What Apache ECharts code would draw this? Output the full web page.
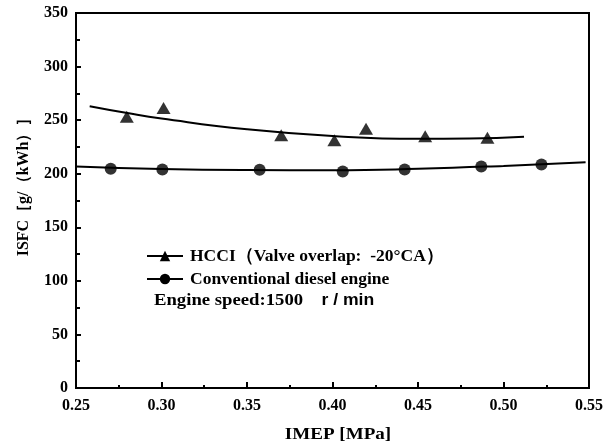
<!DOCTYPE html>
<html>
<head>
<meta charset="utf-8">
<script src="https://cdn.jsdelivr.net/npm/echarts@6/dist/echarts.min.js"></script>
<style>html,body{margin:0;padding:0;background:#fff;}#c{width:611px;height:446px;}</style>
</head>
<body>
<div id="c"></div>
<script>
// Measured points
const hcciX = [0.2797, 0.3012, 0.370, 0.4011, 0.4196, 0.4542, 0.4906];
const hcciY = [253.1, 261.3, 236.0, 231.3, 242.0, 235.0, 233.6];
const dieselX = [0.2703, 0.3005, 0.3574, 0.406, 0.4422, 0.487, 0.5222];
const dieselY = [204.6, 203.9, 203.6, 202.1, 203.9, 206.7, 208.6];
// Fitted curves
const hcciFitX = [0.258, 0.28, 0.30, 0.35, 0.40, 0.45, 0.48, 0.512];
const hcciFitY = [263.0, 256.6, 251.5, 241.5, 235.2, 232.6, 232.8, 234.6];
const dieselFitX = [0.25, 0.30, 0.35, 0.40, 0.45, 0.50, 0.548];
const dieselFitY = [206.8, 204.5, 203.5, 203.3, 204.6, 207.3, 210.8];
// Axis
const xMin = 0.25, xMax = 0.55, xStep = 0.05;
const yMin = 0, yMax = 350, yStep = 50;

const hcciName = 'HCCI（Valve overlap:  -20°CA）';
const dieselName = 'Conventional diesel engine';
const zip = (a, b) => a.map((v, i) => [v, b[i]]);
const serif = '"Liberation Serif","Times New Roman",serif';

const chart = echarts.init(document.getElementById('c'), null, {renderer: 'canvas'});
chart.setOption({
  backgroundColor: '#fff',
  animation: false,
  grid: {left: 76, right: 22, top: 13, bottom: 58, show: true, borderColor: '#000', borderWidth: 2, containLabel: false},
  xAxis: {
    type: 'value', min: xMin, max: xMax, interval: xStep,
    axisLine: {lineStyle: {color: '#000', width: 2}},
    axisTick: {inside: true, length: 6, lineStyle: {color: '#000', width: 2}},
    minorTick: {show: true, splitNumber: 2, length: 3, lineStyle: {color: '#000', width: 2}},
    splitLine: {show: false},
    axisLabel: {color: '#000', fontFamily: serif, fontWeight: 'bold', fontSize: 16, margin: 10,
      formatter: v => v.toFixed(2)}
  },
  yAxis: {
    type: 'value', min: yMin, max: yMax, interval: yStep,
    axisLine: {lineStyle: {color: '#000', width: 2}},
    axisTick: {inside: true, length: 5, lineStyle: {color: '#000', width: 2}},
    minorTick: {show: true, splitNumber: 2, length: 4, lineStyle: {color: '#000', width: 2}},
    splitLine: {show: false},
    axisLabel: {color: '#000', fontFamily: serif, fontWeight: 'bold', fontSize: 16, margin: 8}
  },
  legend: {
    left: 141, top: 242, orient: 'vertical', itemGap: 5, itemWidth: 36, itemHeight: 13,
    data: [hcciName, dieselName],
    textStyle: {color: '#000', fontFamily: serif, fontWeight: 'bold', fontSize: 17.5, lineHeight: 18, padding: [0, 0, 0, 2]}
  },
  graphic: [
    {type: 'text', left: 154, top: 292, scaleX: 1.1, style: {
      text: '{a|Engine speed:1500}     {b|r / min}',
      rich: {
        a: {fontFamily: serif, fontWeight: 'bold', fontSize: 17, fill: '#000'},
        b: {fontFamily: '"Liberation Sans",Arial,sans-serif', fontWeight: 'bold', fontSize: 16, fill: '#000'}
      }
    }},
    {type: 'text', x: 338, y: 435, scaleX: 1.12, style: {text: 'IMEP [MPa]', fontFamily: serif, fontWeight: 'bold', fontSize: 17,
      fill: '#000', align: 'center', verticalAlign: 'middle'}},
    {type: 'text', x: 24, y: 183, rotation: Math.PI / 2, style: {text: 'ISFC［g/（kWh）］', fontFamily: serif,
      fontWeight: 'bold', fontSize: 16, fill: '#000', align: 'center', verticalAlign: 'middle'}}
  ],
  series: [
    {name: hcciName, type: 'line', data: zip(hcciFitX, hcciFitY), smooth: true, symbol: 'triangle', symbolSize: [14, 12],
      showSymbol: false, lineStyle: {color: '#000', width: 2}, itemStyle: {color: '#000'}, z: 2},
    {name: dieselName, type: 'line', data: zip(dieselFitX, dieselFitY), smooth: true, symbol: 'circle', symbolSize: 12,
      showSymbol: false, lineStyle: {color: '#000', width: 2}, itemStyle: {color: '#000'}, z: 2},
    {name: hcciName, type: 'scatter', data: zip(hcciX, hcciY), symbol: 'triangle', symbolSize: [14, 12],
      itemStyle: {color: '#000'}, z: 3},
    {name: dieselName, type: 'scatter', data: zip(dieselX, dieselY), symbol: 'circle', symbolSize: 12,
      itemStyle: {color: '#000'}, z: 3}
  ]
});
</script>
</body>
</html>
